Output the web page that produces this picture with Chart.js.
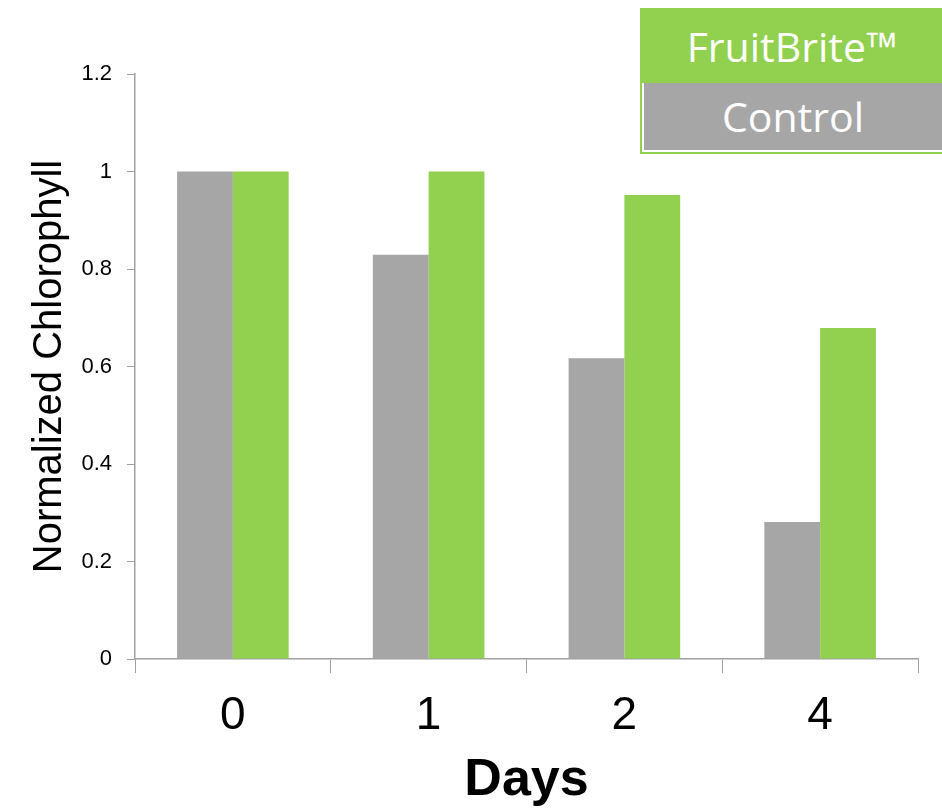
<!DOCTYPE html>
<html>
<head>
<meta charset="utf-8">
<script src="https://cdn.jsdelivr.net/npm/chart.js@4"></script>
<style>
  html, body { margin: 0; padding: 0; background: #fff; }
  #wrap { position: relative; width: 942px; height: 812px; }
  #legend {
    position: absolute; left: 640px; top: 8px; width: 300px; height: 142px;
    border: 2px solid #92D050; border-right: none; font-family: 'Open Sans', sans-serif;
  }
  .key { color: #fff; font-size: 41px; text-align: center; }
  .key.green { background: #92D050; height: 73px; line-height: 73px; }
  .key.gray { background: #A6A6A6; height: 67px; line-height: 67px; margin-left: 2px; }
</style>
</head>
<body>
<div id="wrap">
  <canvas id="chlChart" width="942" height="812"></canvas>
  <div id="legend">
    <div class="key green">FruitBrite™</div>
    <div class="key gray">Control</div>
  </div>
</div>
<script>
const days = ['0', '1', '2', '4'];
const controlValues = [1.0, 0.829, 0.617, 0.281];
const fruitBriteValues = [1.0, 1.0, 0.952, 0.679];

const axisGray = '#A0A0A0';

const ctx = document.getElementById('chlChart').getContext('2d');

const chart = new Chart(ctx, {
  type: 'bar',
  data: {
    labels: days,
    datasets: [
      {
        label: 'Control',
        data: controlValues,
        backgroundColor: '#A6A6A6',
        categoryPercentage: 0.57,
        barPercentage: 1.0,
      },
      {
        label: 'FruitBrite™',
        data: fruitBriteValues,
        backgroundColor: '#92D050',
        categoryPercentage: 0.57,
        barPercentage: 1.0,
      },
    ],
  },
  options: {
    responsive: false,
    animation: false,
    layout: {
      padding: { left: 0, right: 24, top: 74, bottom: 0 },
    },
    plugins: {
      legend: { display: false },
      tooltip: { enabled: false },
    },
    scales: {
      x: {
        afterFit: function (scale) { scale.height = 153; },
        grid: {
          offset: true,
          drawOnChartArea: false,
          drawTicks: true,
          tickLength: 14,
          color: axisGray,
        },
        border: { color: axisGray, width: 1.5 },
        ticks: {
          color: '#000',
          padding: 16,
          font: { family: 'Arial, "Liberation Sans"', size: 46 },
        },
        title: {
          display: true,
          text: 'Days',
          color: '#000',
          padding: { top: 0, bottom: 0 },
          font: { family: 'Arial, "Liberation Sans"', size: 52, weight: 'bold' },
        },
      },
      y: {
        min: 0,
        max: 1.2,
        afterFit: function (scale) { scale.width = 135; },
        grid: {
          drawOnChartArea: false,
          drawTicks: true,
          tickLength: 8,
          color: axisGray,
        },
        border: { color: axisGray, width: 1.5 },
        ticks: {
          stepSize: 0.2,
          color: '#000',
          padding: 15,
          font: { family: 'Arial, "Liberation Sans"', size: 22 },
          callback: function (value) {
            return String(Number(value.toFixed(1)));
          },
        },
        title: {
          display: true,
          text: 'Normalized Chlorophyll',
          color: '#000',
          padding: { top: 26, bottom: 0 },
          font: { family: 'Arial, "Liberation Sans"', size: 40 },
        },
      },
    },
  },
});
</script>
</body>
</html>
